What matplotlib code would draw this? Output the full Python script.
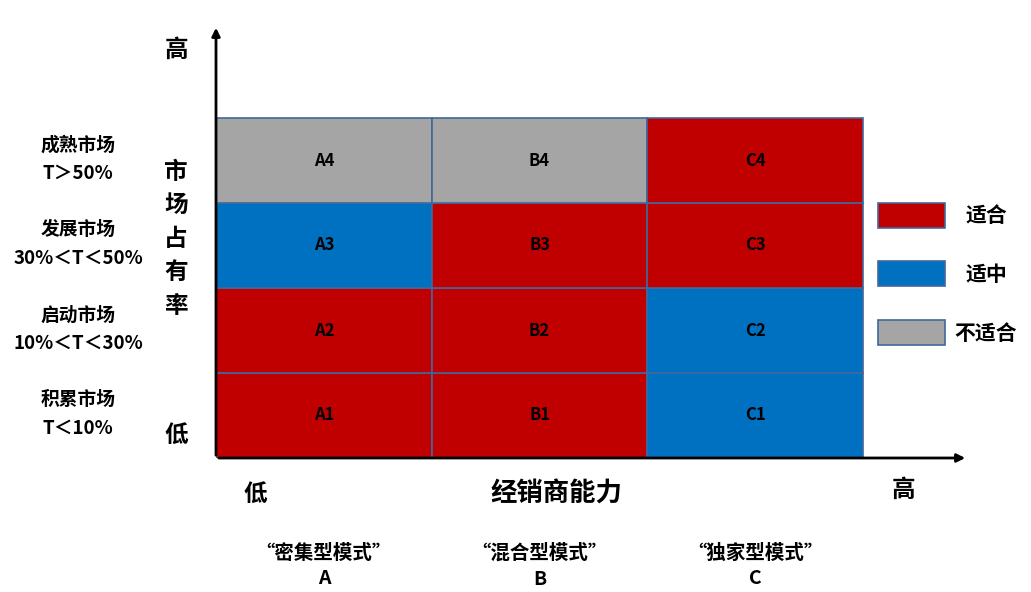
import matplotlib
matplotlib.use("Agg")
import matplotlib.pyplot as plt
from matplotlib.patches import Rectangle

plt.rcParams['font.family'] = ['Noto Sans CJK SC', 'DejaVu Sans']

# columns (distributor capability) and rows (market share)
columns = ["A", "B", "C"]
modes = ["“密集型模式”", "“混合型模式”", "“独家型模式”"]
row_names = ["积累市场\nT＜10%", "启动市场\n10%＜T＜30%", "发展市场\n30%＜T＜50%", "成熟市场\nT＞50%"]

# suitability per column, bottom row first: 2 = 适合, 1 = 适中, 0 = 不适合
fit_A = [2, 2, 1, 0]
fit_B = [2, 2, 2, 0]
fit_C = [1, 1, 2, 2]

levels = ["不适合", "适中", "适合"]
colors = {0: "#A5A5A5", 1: "#0070C0", 2: "#C00000"}
edge = "#41689C"

W, H = 1031, 592
fig = plt.figure(figsize=(W / 100, H / 100), dpi=100)
ax = fig.add_axes([216 / W, 134 / H, 752 / W, 433 / H])
ax.set_xlim(0, 752 / 215.7)
ax.set_ylim(0, 433 / 85)
ax.axis("off")

for ci, fits in enumerate([fit_A, fit_B, fit_C]):
    for ri, f in enumerate(fits):
        ax.add_patch(Rectangle((ci, ri), 1, 1, facecolor=colors[f],
                               edgecolor=edge, linewidth=1.2))
        ax.text(ci + 0.5, ri + 0.5, f"{columns[ci]}{ri + 1}", ha="center", va="center",
                fontsize=12, fontweight="bold", color="black")

# axes arrows
ax.annotate("", xy=(0, 433 / 85), xytext=(0, 0),
            arrowprops=dict(arrowstyle="-|>", color="black", lw=2, mutation_scale=12))
ax.annotate("", xy=(752 / 215.7, 0), xytext=(0, 0),
            arrowprops=dict(arrowstyle="-|>", color="black", lw=2, mutation_scale=12))

# row labels
for ri, name in enumerate(row_names):
    ax.text(-0.64, ri + 0.52, name, ha="center", va="center", fontsize=13.5,
            fontweight="bold", linespacing=1.6)

# column labels
for ci, (m, c) in enumerate(zip(modes, columns)):
    ax.text(ci + 0.5, -1.27, m + "\n" + c, ha="center", va="center", fontsize=14,
            fontweight="bold", linespacing=1.45)

# axis titles
bold = dict(fontweight="bold", color="black")
ax.text(-0.185, 2.58, "市\n场\n占\n有\n率", ha="center", va="center", fontsize=17,
        linespacing=1.5, **bold)
ax.text(-0.185, 4.8, "高", ha="center", va="center", fontsize=17, **bold)
ax.text(-0.185, 0.27, "低", ha="center", va="center", fontsize=17, **bold)
ax.text(0.18, -0.42, "低", ha="center", va="center", fontsize=17, **bold)
ax.text(1.58, -0.42, "经销商能力", ha="center", va="center", fontsize=19, **bold)
ax.text(3.185, -0.38, "高", ha="center", va="center", fontsize=17, **bold)

# legend
for i, lv in enumerate([2, 1, 0]):
    y = 203 + i * 58.5
    fig.patches.append(Rectangle((878 / W, 1 - (y + 25) / H), 67 / W, 25 / H,
                                 facecolor=colors[lv], edgecolor=edge, linewidth=1.2,
                                 transform=fig.transFigure, figure=fig))
    fig.text(986 / W, 1 - (y + 13) / H, levels[lv], ha="center", va="center",
             fontsize=15, fontweight="bold")

fig.savefig("out.png", dpi=100)
